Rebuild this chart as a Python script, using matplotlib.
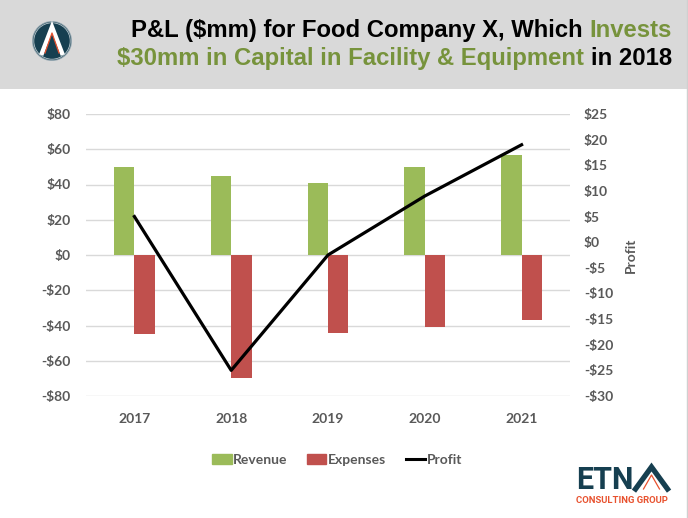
import matplotlib
matplotlib.use('Agg')
import matplotlib.pyplot as plt
from matplotlib.patches import Circle, Patch, Rectangle
from matplotlib.lines import Line2D

# data ($mm)
years = ['2017', '2018', '2019', '2020', '2021']
revenue = [50, 45, 41, 50, 57]
expenses = [-45, -70, -44, -41, -37]
profit = [5, -25, -2.5, 9, 19]

left_ticks = [80, 60, 40, 20, 0, -20, -40, -60, -80]
right_ticks = [25, 20, 15, 10, 5, 0, -5, -10, -15, -20, -25, -30]

GREEN = '#9BBB59'
RED = '#C0504D'
TITLE_GREEN = '#77933C'
GREY_TXT = '#595959'
TEAL = '#163F50'
ORANGE = '#E8522F'

W, H = 688, 518
fig = plt.figure(figsize=(W / 100, H / 100), dpi=100)
fig.patch.set_facecolor('white')

# overlay in pixel coords for header band and logos
over = fig.add_axes([0, 0, 1, 1], zorder=-1)
over.set_xlim(0, W)
over.set_ylim(H, 0)
over.axis('off')
over.add_patch(Rectangle((0, 0), W, 89, color='#D9D9D9', lw=0))
over.plot([686.5, 686.5], [0, H], color='#D0D0D0', lw=1)

# top-left round logo
over.add_patch(Circle((52, 41), 20, color='#8FA3AD', lw=0))
over.add_patch(Circle((52, 41), 19, color=TEAL, lw=0))
over.add_patch(Circle((52, 41), 18.2, fill=False, ec='#B8C6CC', lw=0.6))
over.plot([42, 52, 62], [53, 27, 53], color='white', lw=3.2, solid_joinstyle='miter')
over.plot([45, 52, 59], [53, 33, 53], color=ORANGE, lw=0.9)

# ETNA logo bottom right
fig.canvas.draw()
r = fig.canvas.get_renderer()
etn = over.text(576, 489, 'ETN', fontsize=22, fontweight='bold', color=TEAL,
                family='Roboto', ha='left', va='baseline')
etn_w = etn.get_window_extent(renderer=r).width
ax0 = 576 + etn_w + 2
over.plot([ax0, ax0 + 16, ax0 + 32], [489, 467, 489], color=TEAL, lw=3.8,
          solid_joinstyle='miter')
over.plot([ax0 + 8, ax0 + 16, ax0 + 24], [489, 475, 489], color=ORANGE, lw=0.9)
over.text(622, 503, 'CONSULTING GROUP', fontsize=6.8, fontweight='bold', color=ORANGE,
          family='Roboto', ha='center', va='baseline')

# main chart
ax = fig.add_axes([86 / W, 1 - 396 / H, (570 - 86) / W, (396 - 114) / H])
x = list(range(len(years)))
bw = 0.21
ax.bar([i - bw / 2 for i in x], revenue, width=bw, color=GREEN, zorder=2)
ax.bar([i + bw / 2 for i in x], expenses, width=bw, color=RED, zorder=2)
ax.set_xlim(-0.5, len(years) - 0.5)
ax.set_ylim(-80, 80)
ax.set_yticks(left_ticks)
ax.set_yticklabels([f'${v}' if v >= 0 else f'-${-v}' for v in left_ticks])
ax.set_xticks(x)
ax.set_xticklabels(years)
ax.yaxis.grid(True, color='#D9D9D9', lw=1)
ax.set_axisbelow(True)
for s in ax.spines.values():
    s.set_visible(False)
ax.tick_params(length=0, labelsize=10, labelcolor=GREY_TXT, pad=11)
ax.tick_params(axis='x', pad=12)
for lab in ax.get_xticklabels() + ax.get_yticklabels():
    lab.set_fontweight('bold')
    lab.set_family('Lato')

ax2 = ax.twinx()
ax2.plot(x, profit, color='black', lw=2.3, zorder=3)
ax2.set_ylim(-30, 25)
ax2.set_yticks(right_ticks)
ax2.set_yticklabels([f'${v}' if v >= 0 else f'-${-v}' for v in right_ticks])
for s in ax2.spines.values():
    s.set_visible(False)
ax2.tick_params(length=0, labelsize=10, labelcolor=GREY_TXT, pad=10)
for lab in ax2.get_yticklabels():
    lab.set_fontweight('bold')
    lab.set_family('Lato')
ax2.set_ylabel('Profit', fontsize=10, fontweight='bold', color=GREY_TXT, family='Lato', labelpad=8)

handles = [Patch(color=GREEN, label='Revenue'), Patch(color=RED, label='Expenses'),
           Line2D([], [], color='black', lw=2.2, label='Profit')]
fig.legend(handles=handles, loc='center', bbox_to_anchor=(337 / W, 1 - 460 / H), ncol=3,
           frameon=False, handlelength=1.4, handletextpad=0.1, columnspacing=1.4,
           prop={'family': 'Lato', 'weight': 'bold', 'size': 10}, labelcolor=GREY_TXT)

# two-line title with coloured segments, right aligned
lines = [
    (37, [('P&L ($mm) for Food Company X, Which ', 'black'), ('Invests', TITLE_GREEN)]),
    (65, [('$30mm in Capital in Facility & Equipment ', TITLE_GREEN), ('in 2018', 'black')]),
]
for yb, segs in lines:
    right = 672
    for txt, col in reversed(segs):
        t = over.text(right, yb, txt, fontsize=17.2, fontweight='bold', color=col,
                      family='Liberation Sans', ha='right', va='baseline')
        bb = t.get_window_extent(renderer=r)
        right -= bb.width

fig.savefig('out.png', dpi=100)
